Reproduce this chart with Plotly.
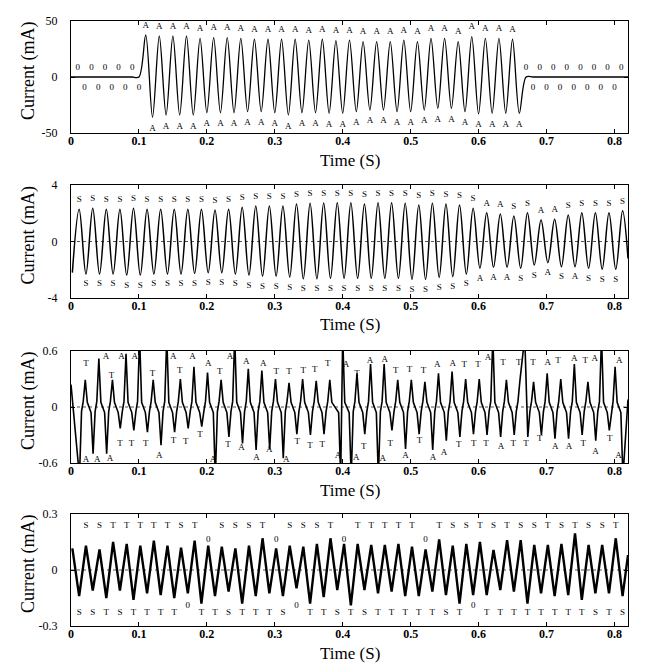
import plotly.graph_objects as go

# ---------------- data ----------------
# Panel 1: appliance "A" switched on between ~0.105 s and ~0.665 s (mA)
p1_top_t = [0.01,0.03,0.05,0.07,0.09,0.11,0.13,0.15,0.17,0.19,0.21,0.23,0.25,0.27,0.29,0.31,0.33,0.35,0.37,0.39,0.41,
            0.43,0.45,0.47,0.49,0.51,0.53,0.55,0.57,0.59,0.61,0.63,0.65,0.67,0.69,0.71,0.73,0.75,0.77,0.79,0.81]
p1_top_v = [0,0,0,0,0,37.5,36.6,36.6,36.6,34.5,35.1,35.1,34.5,33.7,33.7,33.7,33.7,33.0,33.7,32.4,33.0,
            31.5,31.5,31.5,33.0,31.5,34.5,34.5,31.5,36.0,34.5,34.5,33.7,0,0,0,0,0,0,0,0]
p1_top_lab = ["0","0","0","0","0","A","A","A","A","A","A","A","A","A","A","A","A","A","A","A","A",
              "A","A","A","A","A","A","A","A","A","A","A","A","0","0","0","0","0","0","0","0"]
p1_bot_t = [0.02,0.04,0.06,0.08,0.10,0.12,0.14,0.16,0.18,0.20,0.22,0.24,0.26,0.28,0.30,0.32,0.34,0.36,0.38,0.40,
            0.42,0.44,0.46,0.48,0.50,0.52,0.54,0.56,0.58,0.60,0.62,0.64,0.66,0.68,0.70,0.72,0.74,0.76,0.78,0.80]
p1_bot_v = [0,0,0,0,0,-36.0,-34.0,-34.0,-34.0,-31.9,-31.9,-31.9,-31.0,-31.0,-31.9,-34.0,-31.9,-31.9,-32.4,-32.4,
            -31.0,-29.5,-29.5,-31.0,-31.0,-29.5,-28.0,-28.0,-31.0,-33.0,-32.4,-32.4,-32.4,0,0,0,0,0,0,0]
p1_bot_lab = ["0","0","0","0","0","A","A","A","A","A","A","A","A","A","A","A","A","A","A","A",
              "A","A","A","A","A","A","A","A","A","A","A","A","A","0","0","0","0","0","0","0"]
p1_edge_t = [0.0, 0.82]
p1_edge_v = [0.0, 0.0]

# Panel 2: appliance "S" (mA)
p2_peak_t = [0.012,0.032,0.052,0.072,0.092,0.112,0.132,0.152,0.172,0.192,0.212,0.232,0.252,0.272,0.292,0.312,0.332,
             0.352,0.372,0.392,0.412,0.432,0.452,0.472,0.492,0.512,0.532,0.552,0.572,0.592,0.612,0.632,0.652,0.672,
             0.692,0.712,0.732,0.752,0.772,0.792,0.812]
p2_peak_v = [2.28,2.35,2.28,2.28,2.35,2.28,2.28,2.28,2.28,2.28,2.23,2.28,2.43,2.52,2.52,2.52,2.66,2.71,2.73,
             2.75,2.75,2.66,2.75,2.75,2.71,2.59,2.71,2.66,2.59,2.35,2.04,1.95,1.81,2.04,1.52,1.57,1.88,2.04,2.04,2.04,2.18]
p2_peak_lab = ["S","S","S","S","S","S","S","S","S","S","S","S","S","S","S","S","S","S","S","S","S","S","S","S",
               "S","S","S","S","S","S","A","A","S","S","A","A","S","S","S","S","S"]
p2_trough_t = [0.002,0.022,0.042,0.062,0.082,0.102,0.122,0.142,0.162,0.182,0.202,0.222,0.242,0.262,0.282,0.302,0.322,
               0.342,0.362,0.382,0.402,0.422,0.442,0.462,0.482,0.502,0.522,0.542,0.562,0.582,0.602,0.622,0.642,0.662,
               0.682,0.702,0.722,0.742,0.762,0.782,0.802]
p2_trough_v = [-2.2,-2.3,-2.3,-2.3,-2.38,-2.38,-2.3,-2.3,-2.3,-2.26,-2.21,-2.21,-2.3,-2.38,-2.45,-2.45,-2.52,-2.64,-2.64,
               -2.61,-2.61,-2.61,-2.61,-2.61,-2.61,-2.68,-2.68,-2.54,-2.49,-2.3,-1.9,-1.83,-1.83,-1.9,-1.67,-1.5,-1.79,
               -1.79,-1.9,-1.97,-1.97]
p2_trough_lab = ["","S","S","S","S","S","S","S","S","S","S","S","S","S","S","S","S","S","S","S","S","S","S","S",
                 "S","S","S","S","S","S","A","A","A","S","S","A","S","A","S","S","S"]
p2_edge_t = [0.82]
p2_edge_v = [-1.2]

# Panel 3: appliances "T" and "A" (mA); values beyond +-0.6 are clipped spikes
p3_peak_t = [0.021,0.041,0.061,0.081,0.101,0.121,0.141,0.161,0.181,0.201,0.221,0.241,0.261,0.281,0.301,0.321,0.341,
             0.361,0.381,0.400,0.421,0.441,0.461,0.481,0.501,0.521,0.541,0.561,0.581,0.601,0.621,0.641,0.661,0.668,
             0.681,0.701,0.721,0.741,0.761,0.781,0.801]
p3_peak_v = [0.29,0.52,0.29,0.57,0.75,0.29,0.75,0.30,0.43,0.37,0.29,0.75,0.41,0.39,0.30,0.26,0.30,0.28,0.29,0.75,
             0.36,0.46,0.46,0.29,0.29,0.27,0.36,0.38,0.30,0.30,0.75,0.29,0.29,0.75,0.27,0.36,0.30,0.46,0.27,0.75,0.43]
p3_trough_t = [0.0125,0.0325,0.0525,0.0725,0.0925,0.1125,0.1325,0.1525,0.1725,0.1925,0.2125,0.2325,0.2525,0.2725,
               0.2925,0.3125,0.3325,0.3525,0.3725,0.397,0.4125,0.4325,0.4525,0.4725,0.4925,0.5125,0.5325,0.5525,
               0.5725,0.5925,0.6125,0.6325,0.6525,0.6725,0.6925,0.7125,0.7325,0.7525,0.7725,0.7925,0.8125]
p3_trough_v = [-0.75,-0.5,-0.5,-0.23,-0.25,-0.27,-0.41,-0.27,-0.23,-0.21,-0.75,-0.32,-0.39,-0.46,-0.45,-0.55,-0.29,
               -0.30,-0.29,-0.75,-0.75,-0.29,-0.75,-0.25,-0.45,-0.29,-0.46,-0.36,-0.32,-0.29,-0.30,-0.32,-0.30,-0.32,
               -0.30,-0.34,-0.34,-0.30,-0.36,-0.25,-0.75]
p3_edge_t = [0.0, 0.82]
p3_edge_v = [0.24, 0.08]
p3_top_lab_t = [0.022,0.0515,0.0598,0.0745,0.094,0.120,0.1505,0.160,0.179,0.202,0.219,0.234,0.258,0.283,0.302,0.321,
                0.342,0.359,0.378,0.405,0.421,0.440,0.462,0.478,0.4985,0.519,0.539,0.562,0.579,0.599,0.614,0.636,
                0.659,0.680,0.702,0.717,0.741,0.757,0.771,0.807]
p3_top_lab_y = [0.46,0.54,0.34,0.54,0.54,0.36,0.54,0.39,0.54,0.46,0.375,0.54,0.48,0.46,0.375,0.375,0.39,0.40,0.46,
                0.45,0.36,0.50,0.51,0.39,0.40,0.39,0.45,0.46,0.45,0.45,0.53,0.47,0.47,0.47,0.47,0.50,0.52,0.50,0.52,0.50]
p3_top_lab = ["T","A","T","A","A","T","A","T","A","A","T","A","A","A","T","T","T","T","T",
              "A","T","A","A","T","T","T","A","A","T","T","A","T","T","T","A","T","A","T","A","A"]
p3_bot_lab_t = [0.022,0.0387,0.0574,0.072,0.089,0.110,0.130,0.151,0.169,0.190,0.209,0.231,0.251,0.273,0.292,0.317,
                0.333,0.352,0.370,0.393,0.420,0.431,0.459,0.470,0.4926,0.513,0.533,0.549,0.571,0.593,0.611,0.633,
                0.651,0.670,0.690,0.713,0.733,0.754,0.772,0.793,0.806]
p3_bot_lab_y = [-0.57,-0.56,-0.55,-0.39,-0.39,-0.39,-0.52,-0.36,-0.37,-0.30,-0.56,-0.40,-0.44,-0.54,-0.46,-0.57,
                -0.375,-0.42,-0.40,-0.52,-0.54,-0.43,-0.55,-0.39,-0.52,-0.36,-0.54,-0.49,-0.40,-0.39,-0.39,-0.43,
                -0.39,-0.39,-0.34,-0.43,-0.43,-0.39,-0.48,-0.34,-0.52]
p3_bot_lab = ["A","A","A","T","T","T","A","T","T","T","A","T","A","A","A","A","T","T","T",
              "A","A","T","A","T","A","T","A","A","T","T","T","A","T","T","T","A","A","T","A","T","A"]

# Panel 4: appliances "S", "T" and off "0" (mA)
p4_peak_t = [0.002,0.022,0.042,0.062,0.082,0.102,0.122,0.142,0.162,0.182,0.202,0.222,0.242,0.262,0.282,0.302,0.322,
             0.342,0.362,0.382,0.402,0.422,0.442,0.462,0.482,0.502,0.522,0.542,0.562,0.582,0.602,0.622,0.642,0.662,
             0.682,0.702,0.722,0.742,0.762,0.782,0.802]
p4_peak_v = [0.116,0.13,0.11,0.15,0.14,0.13,0.157,0.13,0.12,0.157,0.13,0.125,0.116,0.13,0.17,0.116,0.13,0.125,0.14,
             0.17,0.14,0.14,0.134,0.134,0.14,0.125,0.11,0.164,0.13,0.14,0.15,0.107,0.16,0.16,0.134,0.134,0.14,0.196,
             0.134,0.134,0.17]
p4_peak_lab = ["","S","S","T","T","T","T","T","S","T","0","S","S","S","T","0","S","S","S","T","0",
               "T","T","T","T","T","0","T","S","S","T","S","T","S","S","T","S","T","S","S","T"]
p4_trough_t = [0.012,0.032,0.052,0.072,0.092,0.112,0.132,0.152,0.172,0.192,0.212,0.232,0.252,0.272,0.292,0.312,0.332,
               0.352,0.372,0.392,0.412,0.432,0.452,0.472,0.492,0.512,0.532,0.552,0.572,0.592,0.612,0.632,0.652,0.672,
               0.692,0.712,0.732,0.752,0.772,0.792,0.812]
p4_trough_v = [-0.14,-0.11,-0.15,-0.11,-0.16,-0.125,-0.134,-0.15,-0.125,-0.18,-0.14,-0.116,-0.18,-0.14,-0.125,-0.14,
               -0.098,-0.18,-0.145,-0.107,-0.19,-0.107,-0.125,-0.116,-0.14,-0.14,-0.116,-0.134,-0.18,-0.134,-0.134,
               -0.107,-0.116,-0.18,-0.125,-0.14,-0.134,-0.16,-0.125,-0.125,-0.14]
p4_trough_lab = ["S","S","T","S","T","T","T","T","0","T","T","S","T","T","T","S","0","T","T","S",
                 "T","S","T","T","T","T","T","S","T","0","T","T","T","T","T","T","T","T","S","T","S"]
p4_edge_t = [0.82]
p4_edge_v = [0.08]

x_tickvals = [0, 0.1, 0.2, 0.3, 0.4, 0.5, 0.6, 0.7, 0.8]
x_ticktext = ["0", "0.1", "0.2", "0.3", "0.4", "0.5", "0.6", "0.7", "0.8"]
y_ranges = [[-50, 50], [-4, 4], [-0.6, 0.6], [-0.3, 0.3]]
y_tickvals = [[-50, 0, 50], [-4, 0, 4], [-0.6, 0, 0.6], [-0.3, 0, 0.3]]
y_ticktext = [["-50", "0", "50"], ["-4", "0", "4"], ["-0.6", "0", "0.6"], ["-0.3", "0", "0.3"]]
x_title = "Time (S)"
y_title = "Current (mA)"

# ---------------- layout geometry (pixels, page coordinates) ----------------
OFF = 8                      # default page (body) margin of the html page
W, H = 652 - OFF, 668 - OFF  # figure size so that it fills the window
PL, PR = 71 - OFF, 628 - OFF
PANELS = [(21 - OFF, 133 - OFF), (185 - OFF, 298 - OFF), (351 - OFF, 463 - OFF), (514 - OFF, 626 - OFF)]
FONT = "Liberation Serif, Times New Roman, serif"


def merged(*pairs):
    pts = []
    for ts, vs in pairs:
        pts += list(zip(ts, vs))
    pts.sort()
    return [p[0] for p in pts], [p[1] for p in pts]


def cusp_path(pk_t, pk_v, tr_t, tr_v, ed_t, ed_v, dt=0.003):
    ev = [(t, v, "p") for t, v in zip(pk_t, pk_v)] + [(t, v, "t") for t, v in zip(tr_t, tr_v)]
    ev.sort()
    after = {"p": 0.05, "t": -0.05}
    before = {"p": 0.06, "t": -0.06}
    xs, ys = [ed_t[0]], [ed_v[0]]
    for i, (t, v, k) in enumerate(ev):
        if i > 0:
            t0, v0, k0 = ev[i - 1]
            if t - t0 > 2.4 * dt:
                xs += [t0 + dt, t - dt]
                ys += [after[k0], before[k]]
        xs.append(t)
        ys.append(v)
    xs.append(ed_t[1])
    ys.append(ed_v[1])
    return xs, ys


def labels(x, y, text, xa, ya):
    return go.Scatter(x=x, y=y, text=text, mode="text", cliponaxis=False, xaxis=xa, yaxis=ya,
                      textfont=dict(family=FONT, size=9, color="black"))


fig = go.Figure()

# panel 1
x1, y1 = merged((p1_top_t, p1_top_v), (p1_bot_t, p1_bot_v), (p1_edge_t, p1_edge_v))
fig.add_trace(go.Scatter(x=x1, y=y1, mode="lines", line=dict(color="black", width=1.3, shape="spline", smoothing=0.9),
                         xaxis="x", yaxis="y"))
fig.add_trace(labels(p1_top_t, [v + 8.5 for v in p1_top_v], p1_top_lab, "x", "y"))
fig.add_trace(labels(p1_bot_t, [v - 10 for v in p1_bot_v], p1_bot_lab, "x", "y"))

# panel 2
x2, y2 = merged((p2_peak_t, p2_peak_v), (p2_trough_t, p2_trough_v), (p2_edge_t, p2_edge_v))
fig.add_trace(go.Scatter(x=x2, y=y2, mode="lines", line=dict(color="black", width=1.5, shape="spline", smoothing=1.0),
                         xaxis="x2", yaxis="y2"))
fig.add_trace(labels(p2_peak_t, [v + 0.65 for v in p2_peak_v], p2_peak_lab, "x2", "y2"))
fig.add_trace(labels(p2_trough_t, [v - 0.72 for v in p2_trough_v], p2_trough_lab, "x2", "y2"))

# panel 3
x3, y3 = cusp_path(p3_peak_t, p3_peak_v, p3_trough_t, p3_trough_v, p3_edge_t, p3_edge_v)
fig.add_trace(go.Scatter(x=x3, y=y3, mode="lines", line=dict(color="black", width=1.6),
                         xaxis="x3", yaxis="y3"))
fig.add_trace(labels(p3_top_lab_t, p3_top_lab_y, p3_top_lab, "x3", "y3"))
fig.add_trace(labels(p3_bot_lab_t, p3_bot_lab_y, p3_bot_lab, "x3", "y3"))

# panel 4
x4, y4 = merged((p4_peak_t, p4_peak_v), (p4_trough_t, p4_trough_v), (p4_edge_t, p4_edge_v))
fig.add_trace(go.Scatter(x=x4, y=y4, mode="lines", line=dict(color="black", width=2.4),
                         xaxis="x4", yaxis="y4"))
top_row = {"S": 0.235, "T": 0.235, "0": 0.16, "": 0.235}
bot_row = {"S": -0.23, "T": -0.23, "0": -0.19, "": -0.23}
fig.add_trace(labels(p4_peak_t, [top_row[s] for s in p4_peak_lab], p4_peak_lab, "x4", "y4"))
fig.add_trace(labels(p4_trough_t, [bot_row[s] for s in p4_trough_lab], p4_trough_lab, "x4", "y4"))

layout = dict(width=W, height=H, margin=dict(l=0, r=0, t=0, b=0), paper_bgcolor="white", plot_bgcolor="white",
              showlegend=False, font=dict(family=FONT, color="black"))
annotations = []
shapes = []
for i, (top, bot) in enumerate(PANELS):
    n = "" if i == 0 else str(i + 1)
    layout["xaxis" + n] = dict(domain=[PL / W, PR / W], anchor="y" + n, range=[0, 0.82],
                               tickvals=x_tickvals, ticktext=x_ticktext, ticks="inside", ticklen=4,
                               tickcolor="black", showline=True, linecolor="black", linewidth=1, mirror="ticks",
                               showgrid=False, zeroline=False, ticklabelstandoff=-3,
                               tickfont=dict(family=FONT, size=12, color="black", weight="bold"), automargin=False)
    layout["yaxis" + n] = dict(domain=[1 - bot / H, 1 - top / H], anchor="x" + n, range=y_ranges[i],
                               tickvals=y_tickvals[i], ticktext=y_ticktext[i], ticks="inside", ticklen=4,
                               tickcolor="black", showline=True, linecolor="black", linewidth=1, mirror="ticks",
                               showgrid=False, zeroline=False, ticklabelstandoff=10,
                               tickfont=dict(family=FONT, size=12, color="black"), automargin=False)
    annotations.append(dict(text=x_title, xref="paper", yref="paper", x=(PL + PR) / 2 / W,
                            y=1 - (bot + 27) / H, xanchor="center", yanchor="middle", showarrow=False,
                            font=dict(family=FONT, size=17, color="black")))
    annotations.append(dict(text=y_title, xref="paper", yref="paper", x=(28 - OFF) / W,
                            y=1 - ((top + bot) / 2 - 6) / H, xanchor="center", yanchor="middle", showarrow=False,
                            textangle=-90, font=dict(family=FONT, size=18, color="black")))
    if i > 0:
        shapes.append(dict(type="line", xref="x" + n + " domain", yref="y" + n, x0=0, x1=1, y0=0, y1=0,
                           line=dict(color="#555555", width=1, dash="dot"), layer="below"))
layout["annotations"] = annotations
layout["shapes"] = shapes
fig.update_layout(**layout)
fig.write_html("out.html")
